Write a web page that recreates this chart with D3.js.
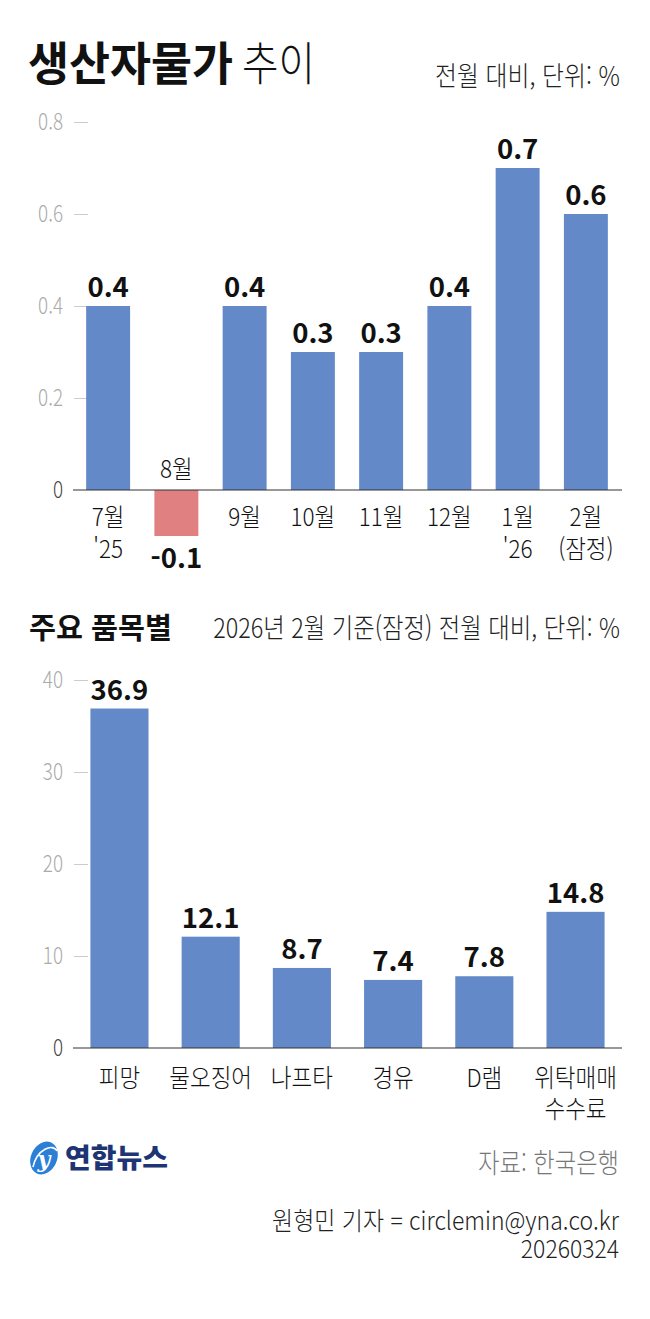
<!DOCTYPE html>
<html lang="ko">
<head>
<meta charset="utf-8">
<script src="https://cdn.jsdelivr.net/npm/d3@7"></script>
<style>
  html, body { margin: 0; padding: 0; background: #fff; }
  svg { display: block; font-family: "Noto Sans CJK KR", "Noto Sans", sans-serif; }
</style>
</head>
<body>
<svg id="chart" width="650" height="1319"></svg>
<script>
// monthly PPI change (top chart)
const months = ["7월", "8월", "9월", "10월", "11월", "12월", "1월", "2월"]
const monthSub = ["'25", "", "", "", "", "", "'26", "(잠정)"]
const monthValues = [0.4, -0.1, 0.4, 0.3, 0.3, 0.4, 0.7, 0.6]
const monthTicks = [0, 0.2, 0.4, 0.6, 0.8]

// items (bottom chart)
const items = [["피망"], ["물오징어"], ["나프타"], ["경유"], ["D램"], ["위탁매매", "수수료"]]
const itemValues = [36.9, 12.1, 8.7, 7.4, 7.8, 14.8]
const itemTicks = [0, 10, 20, 30, 40]

const blue = "#6389c8"
const red = "#e08080"
const svg = d3.select("#chart")

// text helper: the original uses a condensed face, so squeeze horizontally.
// str may be an array -> one text, several lines
function label(parent, x, y, str, o) {
    const lines = Array.isArray(str) ? str : [str]
    const t = parent.append("text")
        .attr("text-anchor", o.anchor || "start")
        .attr("font-size", o.size)
        .attr("font-weight", o.weight || 400)
        .attr("fill", o.fill || "#111")
    t.selectAll("tspan").data(lines).join("tspan")
        .attr("x", 0)
        .attr("dy", (d, i) => i === 0 ? 0 : (o.lead || 30))
        .text(d => d)
    let sx = o.sx || 1
    if (o.width) sx = o.width / t.select("tspan").node().getComputedTextLength()
    t.attr("transform", `translate(${x},${y}) scale(${sx},1)`)
    return t
}

// ---- titles
label(svg, 28, 80, "생산자물가", { size: 46, weight: 700, width: 205 })
label(svg, 242, 80, "추이", { size: 46, weight: 300, width: 73 })
label(svg, 620, 86, "전월 대비, 단위: %", { size: 27, weight: 300, anchor: "end", width: 185, fill: "#222" })

// ---- chart 1
const x1 = d3.scaleBand().domain(months).range([74, 620]).paddingInner(0.356).paddingOuter(0.178)
const y1 = d3.scaleLinear().domain([-0.1, 0.8]).range([536, 122])

function styleAxis(ax) {
    const sx = 0.82
    ax.select(".domain").remove()
    ax.selectAll(".tick line").attr("stroke", "#ccc")
    ax.selectAll(".tick text")
        .attr("font-size", 23).attr("font-weight", 300)
        .attr("font-family", "'Noto Sans CJK KR', sans-serif")
        .attr("fill", d => d === 0 ? "#444" : "#aaa")
        .attr("x", -25 / sx).attr("transform", `scale(${sx},1)`)
    ax.selectAll(".tick").filter(d => d === 0).select("line").remove()
}

const ax1 = svg.append("g").attr("transform", "translate(88,0)")
    .call(d3.axisLeft(y1).tickValues(monthTicks).tickSize(14)
        .tickFormat(d => d === 0 ? "0" : d3.format(".1f")(d)))
styleAxis(ax1)

svg.append("g").selectAll("rect").data(monthValues).join("rect")
    .attr("x", (d, i) => x1(months[i]))
    .attr("width", x1.bandwidth())
    .attr("y", d => y1(Math.max(0, d)))
    .attr("height", d => Math.abs(y1(d) - y1(0)))
    .attr("fill", d => d < 0 ? red : blue)

svg.append("line").attr("x1", 73).attr("x2", 622).attr("y1", y1(0)).attr("y2", y1(0))
    .attr("stroke", "#333").attr("stroke-width", 1.2)

const vals1 = svg.append("g")
monthValues.forEach((d, i) => {
    label(vals1, x1(months[i]) + x1.bandwidth() / 2, d < 0 ? y1(d) + 32 : y1(d) - 9,
        d3.format(".1f")(d).replace("−", "-"), { size: 27, weight: 700, anchor: "middle", sx: 1.02 })
})

const labs1 = svg.append("g")
months.forEach((m, i) => {
    const cx = x1(m) + x1.bandwidth() / 2
    const lines = monthSub[i] ? [m, monthSub[i]] : [m]
    label(labs1, cx, monthValues[i] < 0 ? 478 : 526, lines,
        { size: 25, weight: 300, anchor: "middle", sx: 0.9, lead: 32 })
})

// ---- chart 2 titles
label(svg, 29, 639, "주요 품목별", { size: 29, weight: 700, width: 143 })
label(svg, 620, 638, "2026년 2월 기준(잠정) 전월 대비, 단위: %", { size: 27, weight: 300, anchor: "end", width: 407, fill: "#222" })

// ---- chart 2
const x2 = d3.scaleBand().domain(d3.range(items.length)).range([74, 621]).paddingInner(0.363).paddingOuter(0.18)
const y2 = d3.scaleLinear().domain([0, 40]).range([1048, 680])

const ax2 = svg.append("g").attr("transform", "translate(88,0)")
    .call(d3.axisLeft(y2).tickValues(itemTicks).tickSize(14))
styleAxis(ax2)

svg.append("g").selectAll("rect").data(itemValues).join("rect")
    .attr("x", (d, i) => x2(i))
    .attr("width", x2.bandwidth())
    .attr("y", d => y2(d))
    .attr("height", d => y2(0) - y2(d))
    .attr("fill", blue)

svg.append("line").attr("x1", 73).attr("x2", 622).attr("y1", y2(0)).attr("y2", y2(0))
    .attr("stroke", "#333").attr("stroke-width", 1.2)

const vals2 = svg.append("g")
itemValues.forEach((d, i) => {
    label(vals2, x2(i) + x2.bandwidth() / 2, y2(d) - 9, d3.format(".1f")(d),
        { size: 27, weight: 700, anchor: "middle", sx: 1.02 })
})

const labs2 = svg.append("g")
items.forEach((lines, i) => {
    label(labs2, x2(i) + x2.bandwidth() / 2, 1087, lines,
        { size: 25, weight: 300, anchor: "middle", sx: 0.9, lead: 31 })
})

// ---- footer
const logo = svg.append("g").attr("transform", "translate(29,1141)")
logo.append("ellipse").attr("cx", 15).attr("cy", 17).attr("rx", 13).attr("ry", 17)
    .attr("transform", "rotate(25,15,17)").attr("fill", "#2c7fd6")
logo.append("path").attr("d", "M4,26 C8,8 24,2 28,10").attr("fill", "none")
    .attr("stroke", "#fff").attr("stroke-width", 1.6)
label(logo, 15, 26, "y", { size: 22, weight: 700, anchor: "middle", fill: "#fff" })
    .attr("font-style", "italic").attr("font-family", "'DejaVu Serif', serif")
label(logo, 36, 27, "연합뉴스", { size: 27, weight: 900, width: 103, fill: "#1d3574" })

label(svg, 619, 1173, "자료: 한국은행", { size: 27, weight: 300, anchor: "end", width: 141, fill: "#777" })
label(svg, 619, 1230, ["원형민 기자 = circlemin@yna.co.kr", "20260324"],
    { size: 25, weight: 300, anchor: "end", width: 347, fill: "#222", lead: 28 })
</script>
</body>
</html>
